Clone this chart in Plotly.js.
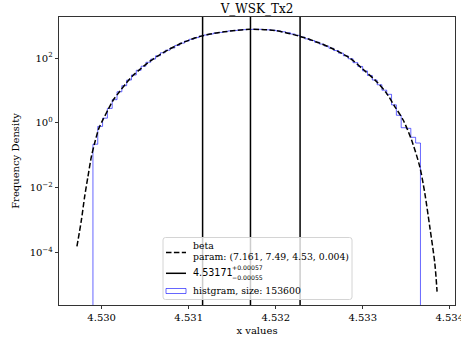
<!DOCTYPE html>
<html><head><meta charset="utf-8">
<script src="https://cdn.plot.ly/plotly-3.0.1.min.js"></script>
<style>html,body{margin:0;padding:0;background:#fff}#chart{width:461px;height:345px}</style>
</head><body><div id="chart"></div>
<script>
// fitted beta pdf
const curveX = [4.529716, 4.529767, 4.529805, 4.529843, 4.529882, 4.529920, 4.529969, 4.530015, 4.530072, 4.530130, 4.530207, 4.530284, 4.530360, 4.530437, 4.530532, 4.530667, 4.530762, 4.530954, 4.531164, 4.531414, 4.531701, 4.531989, 4.532276, 4.532506, 4.532659, 4.532851, 4.533003, 4.533157, 4.533272, 4.533368, 4.533463, 4.533560, 4.533655, 4.533713, 4.533770, 4.533828, 4.533854];
const curveY = [1.55e-4, 1.0e-3, 5.4e-3, 0.0224, 0.091, 0.24, 0.69, 1.26, 2.5, 4.9, 9.3, 17, 29, 44, 72, 126, 178, 316, 490, 646, 767, 708, 468, 288, 190, 100, 45, 19, 8.3, 3.2, 1.25, 0.30, 0.045, 6.8e-3, 6.3e-4, 4.7e-5, 6.3e-6];
// histogram (density), 68 equal bins between histStart and histEnd
const histStart = 4.529900;
const histEnd = 4.533663;
const histDensity = [0.22, 0.78, 1.4, 2.8, 5.2, 9.1, 14, 21, 30, 42, 56, 74, 93, 117, 145, 174, 204, 245, 288, 335, 380, 427, 473, 513, 550, 589, 617, 653, 684, 708, 733, 750, 759, 767, 767, 759, 741, 716, 684, 646, 603, 550, 501, 442, 389, 347, 309, 269, 234, 200, 170, 141, 117, 95, 72, 55, 40, 29, 21, 15, 10.2, 7.6, 3.6, 1.72, 0.71, 0.68, 0.36, 0.24];
// median and interval bounds
const markerLines = [4.53116, 4.53171, 4.53228];
const xTickVals = [4.530, 4.531, 4.532, 4.533, 4.534];
const yTickVals = [1e-4, 1e-2, 1, 100];
const yTickText = ['10<sup>−4</sup>', '10<sup>−2</sup>', '10<sup>0</sup>', '10<sup>2</sup>'];
const titleText = 'V_WSK_Tx2';
const betaName = 'beta';
const betaParams = 'param: (7.161, 7.49, 4.53, 0.004)';
const centerValue = '4.53171';
const centerPlus = '+0.00057';
const centerMinus = '−0.00055';
const histLabel = 'histgram, size: 153600';

const FONT = 'DejaVu Serif, serif';
const SANS = 'DejaVu Sans, sans-serif';
const M = {l: 59, r: 6, t: 17, b: 40};
const W = 461, H = 345;
const pw = W - M.l - M.r, ph = H - M.t - M.b;
const px2x = p => (p - M.l) / pw;
const py2y = p => (H - M.b - p) / ph;

const nb = histDensity.length;
const w = (histEnd - histStart) / nb;
const floorV = 1e-12, ceilV = 1e12;
const hx = [histStart], hy = [floorV];
for (let i = 0; i < nb; i++) { hx.push(histStart + i * w); hy.push(histDensity[i]); }
hx.push(histEnd); hy.push(histDensity[nb - 1]);
hx.push(histEnd); hy.push(floorV);

const vx = [], vy = [];
markerLines.forEach(v => { vx.push(v, v, null); vy.push(floorV, ceilV, null); });

const HIST_COLOR = 'rgba(0,0,255,0.6)';
const traces = [
  {x: hx, y: hy, type: 'scatter', mode: 'lines', line: {shape: 'hv', color: HIST_COLOR, width: 1}, showlegend: false, hoverinfo: 'skip'},
  {x: curveX, y: curveY, type: 'scatter', mode: 'lines', line: {color: 'black', width: 1.5, dash: '5.5px,2.4px', shape: 'spline', smoothing: 0.8}, showlegend: false},
  {x: vx, y: vy, type: 'scatter', mode: 'lines', line: {color: 'black', width: 1.5}, showlegend: false}
];

// legend drawn as a box with handles and text
const lx0 = 163, lx1 = 352, ly0 = 237.5, ly1 = 299.5, rr = 2.5;
const rx = rr / pw, ry = rr / ph;
const X0 = px2x(lx0), X1 = px2x(lx1), Y0 = py2y(ly1), Y1 = py2y(ly0);
const boxPath = `M${X0 + rx},${Y0} L${X1 - rx},${Y0} Q${X1},${Y0} ${X1},${Y0 + ry} L${X1},${Y1 - ry} Q${X1},${Y1} ${X1 - rx},${Y1} L${X0 + rx},${Y1} Q${X0},${Y1} ${X0},${Y1 - ry} L${X0},${Y0 + ry} Q${X0},${Y0} ${X0 + rx},${Y0} Z`;
const shapes = [
  {type: 'path', xref: 'paper', yref: 'paper', path: boxPath, fillcolor: 'rgba(255,255,255,0.8)', line: {color: '#d4d4d4', width: 1}, layer: 'above'},
  {type: 'line', xref: 'paper', yref: 'paper', x0: px2x(166), x1: px2x(186), y0: py2y(252.5), y1: py2y(252.5), line: {color: 'black', width: 1.5, dash: '5.5px,2.4px'}, layer: 'above'},
  {type: 'line', xref: 'paper', yref: 'paper', x0: px2x(166), x1: px2x(186), y0: py2y(273.3), y1: py2y(273.3), line: {color: 'black', width: 1.5}, layer: 'above'},
  {type: 'rect', xref: 'paper', yref: 'paper', x0: px2x(166), x1: px2x(186), y0: py2y(293.5), y1: py2y(288.5), line: {color: HIST_COLOR, width: 1}, fillcolor: 'rgba(0,0,0,0)', layer: 'above'}
];
const ann = (text, x, y, font) => ({text, xref: 'paper', yref: 'paper', x: px2x(x), y: py2y(y), xanchor: 'left', yanchor: 'middle', showarrow: false, font, borderpad: 0});
const LF = {family: FONT, size: 9.3, color: 'black'};
const annotations = [
  ann(betaName, 191.5, 245.2, LF),
  ann(betaParams, 191.5, 256.3, LF),
  ann(centerValue, 191.5, 272.8, {family: SANS, size: 9.6, color: 'black'}),
  ann(centerPlus, 231.3, 267.8, {family: SANS, size: 6.2, color: 'black'}),
  ann(centerMinus, 231.3, 277.0, {family: SANS, size: 6.2, color: 'black'}),
  ann(histLabel, 191.5, 290.8, LF)
];

const layout = {
  width: W, height: H,
  margin: M,
  paper_bgcolor: 'white', plot_bgcolor: 'white',
  font: {family: FONT, size: 10, color: 'black'},
  title: {text: titleText, font: {family: FONT, size: 12, color: 'black'}, xref: 'paper', x: 0.5, xanchor: 'center', yref: 'container', y: 1 - 8.5 / H, yanchor: 'middle'},
  showlegend: false,
  shapes, annotations,
  xaxis: {range: [4.52951, 4.53406], tickvals: xTickVals, tickformat: '.3f', ticks: 'outside', ticklen: 3.5, tickwidth: 0.8, tickcolor: 'black',
          showline: true, linecolor: 'black', linewidth: 0.8, mirror: true, showgrid: false, zeroline: false, automargin: false, ticklabeloverflow: 'allow',
          title: {text: 'x values', font: {family: FONT, size: 10, color: 'black'}, standoff: 4}},
  yaxis: {type: 'log', range: [-5.614, 3.265], tickvals: yTickVals, ticktext: yTickText, ticks: 'outside', ticklen: 3.5, tickwidth: 0.8, tickcolor: 'black',
          showline: true, linecolor: 'black', linewidth: 0.8, mirror: true, showgrid: false, zeroline: false, automargin: false,
          title: {text: 'Frequency Density', font: {family: FONT, size: 10, color: 'black'}, standoff: 8}}
};
Plotly.newPlot('chart', traces, layout, {displayModeBar: false, staticPlot: true});
</script></body></html>
